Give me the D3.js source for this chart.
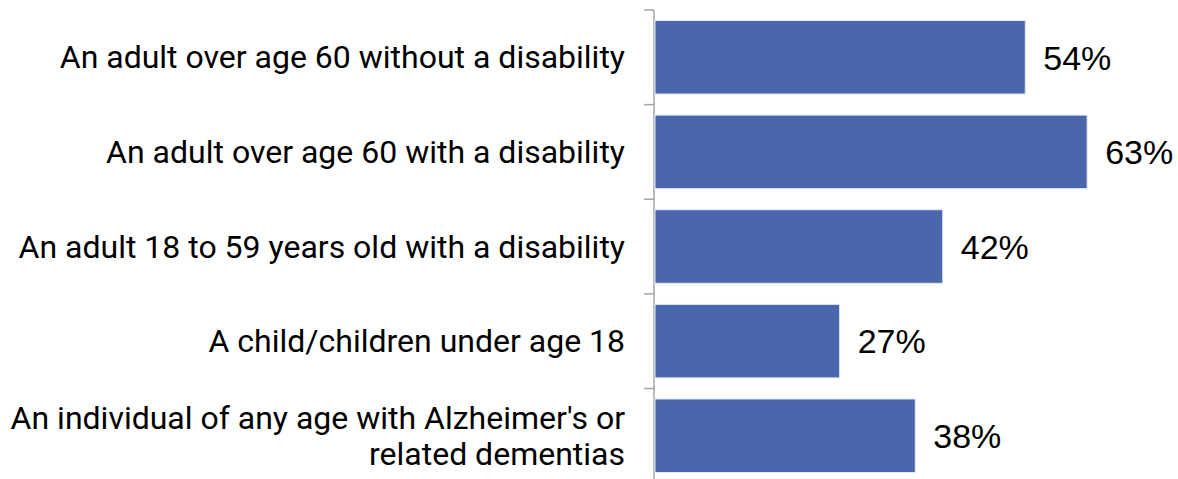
<!DOCTYPE html>
<html><head><meta charset="utf-8">
<script src="https://cdn.jsdelivr.net/npm/d3@7"></script>
<style>body{margin:0;background:#fff}svg{display:block}</style>
</head><body>
<svg id="c" width="1178" height="479"></svg>
<script>
const categories = [
  ["An adult over age 60 without a disability"],
  ["An adult over age 60 with a disability"],
  ["An adult 18 to 59 years old with a disability"],
  ["A child/children under age 18"],
  ["An individual of any age with Alzheimer's or", "related dementias"]
];
const values = [54, 63, 42, 27, 38];
const valueLabels = ["54%", "63%", "42%", "27%", "38%"];

const svg = d3.select("#c");
const x0 = 654;
const x = d3.scaleLinear().domain([0, 70]).range([x0, x0 + 70 * 6.875]);
const y = d3.scaleBand().domain(d3.range(values.length)).range([10, 483]).paddingInner(0.223).paddingOuter(0.111);

// axis
const axisG = svg.append("g").attr("transform", `translate(${x0},0)`);
axisG.append("line").attr("x1", 0).attr("x2", 0).attr("y1", 10).attr("y2", 483)
  .attr("stroke", "#a6a6a6").attr("stroke-width", 1.5);
const bounds = d3.range(values.length + 1).map(i => 10 + i * y.step());
axisG.selectAll("line.t").data(bounds).join("line").attr("class", "t")
  .attr("x1", -10).attr("x2", 0).attr("y1", d => d).attr("y2", d => d)
  .attr("stroke", "#a6a6a6").attr("stroke-width", 1.5);

svg.selectAll("rect.bar").data(values).join("rect").attr("class", "bar")
  .attr("x", x(0) + 1).attr("y", (d, i) => y(i))
  .attr("width", d => x(d) - x(0) - 1).attr("height", y.bandwidth())
  .attr("fill", "#4a66ac").attr("stroke", "#e4e9f3").attr("stroke-width", 1);

svg.selectAll("text.val").data(values).join("text").attr("class", "val")
  .attr("x", d => x(d) + 18).attr("y", (d, i) => y(i) + y.bandwidth() / 2)
  .attr("dy", "0.36em")
  .attr("font-family", "Liberation Sans, Arial, sans-serif").attr("font-size", 34)
  .attr("fill", "#000").text((d, i) => valueLabels[i]);

const fs = 32;
const lab = svg.selectAll("text.cat").data(categories).join("text").attr("class", "cat")
  .attr("x", 625).attr("text-anchor", "end")
  .attr("font-family", "Roboto, sans-serif").attr("font-size", fs).attr("fill", "#000")
  .attr("y", (d, i) => y(i) + y.bandwidth() / 2);
lab.each(function(d) {
  const t = d3.select(this);
  const lh = 36;
  d.forEach((line, j) => {
    t.append("tspan").attr("x", 625)
      .attr("dy", j === 0 ? (0.35 * fs - (d.length - 1) * lh / 2) : lh)
      .text(line);
  });
});
</script>
</body></html>
